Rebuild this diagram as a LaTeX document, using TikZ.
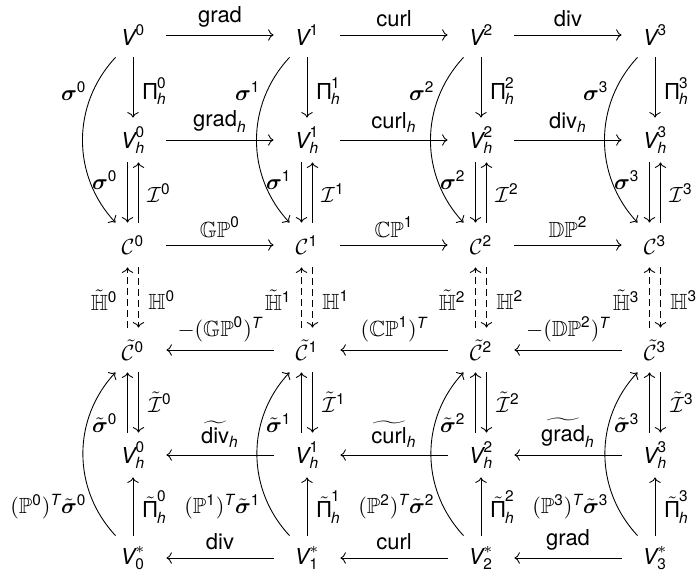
\documentclass[tikz,border=0pt]{standalone}
\usepackage{amsmath,amssymb,bm}
\usepackage{fontspec}
\setmainfont{TeX Gyre Heros}
\usetikzlibrary{arrows.meta}
\newcommand{\si}[1]{\text{\itshape #1}}
\newcommand{\su}[1]{\text{\upshape #1}}
\begin{document}
\begin{tikzpicture}[x=0.455pt,y=0.455pt,
  obj/.style={minimum width=30pt,minimum height=20pt,inner sep=0pt},
  lbl/.style={inner sep=0pt},
  arr/.style={->},
  darr/.style={->,dash pattern=on 3pt off 2pt}]
\useasboundingbox (0,0) rectangle (696,-572);
\foreach \k/\x in {0/133,1/307,2/481,3/655}{
  \node[obj] (V\k) at (\x,-35) {$\si{V}^{\su{\k}}$};
  \node[obj] (Vh\k) at (\x,-140) {$\si{V}^{\su{\k}}_{\si{h}}$};
  \node[obj] (C\k) at (\x,-245) {$\mathcal{C}^{\su{\k}}$};
  \node[obj] (Ct\k) at (\x,-350) {$\tilde{\mathcal{C}}^{\su{\k}}$};
  \node[obj] (Vb\k) at (\x,-455) {$\si{V}^{\su{\k}}_{\si{h}}$};
  \node[obj] (Vs\k) at (\x,-558) {$\si{V}^{\ast}_{\su{\k}}$};
  \draw[arr] (V\k) -- (Vh\k);
  \draw[arr] ([xshift=-2.5pt]Vh\k.south) -- ([xshift=-2.5pt]C\k.north);
  \draw[arr] ([xshift=2.5pt]C\k.north) -- ([xshift=2.5pt]Vh\k.south);
  \draw[darr] ([xshift=-2.5pt]Ct\k.north) -- ([xshift=-2.5pt]C\k.south);
  \draw[darr] ([xshift=2.5pt]C\k.south) -- ([xshift=2.5pt]Ct\k.north);
  \draw[arr] ([xshift=-2.5pt]Vb\k.north) -- ([xshift=-2.5pt]Ct\k.south);
  \draw[arr] ([xshift=2.5pt]Ct\k.south) -- ([xshift=2.5pt]Vb\k.north);
  \draw[arr] (Vs\k) -- (Vb\k);
  \draw[arr] (V\k.-128) to[bend right=43] (C\k.128);
  \draw[arr] (Vs\k.128) to[bend left=43] (Ct\k.-128);
  \node[lbl,anchor=east] (sA\k) at (\x-46,-91) {$\boldsymbol{\sigma}^{\su{\k}}$};
  \node[lbl,anchor=west] (pi\k) at (\x+10,-91) {$\su{Π}^{\su{\k}}_{\si{h}}$};
  \node[lbl,anchor=east] (sB\k) at (\x-15,-180) {$\boldsymbol{\sigma}^{\su{\k}}$};
  \node[lbl,anchor=west] (I\k) at (\x+14,-193) {$\mathcal{I}^{\su{\k}}$};
  \node[lbl,anchor=east] (Ht\k) at (\x-15,-300) {$\tilde{\mathbb{H}}^{\su{\k}}$};
  \node[lbl,anchor=west] (H\k) at (\x+15,-300) {$\mathbb{H}^{\su{\k}}$};
  \node[lbl,anchor=east] (st\k) at (\x-15,-423) {$\tilde{\boldsymbol{\sigma}}^{\su{\k}}$};
  \node[lbl,anchor=west] (It\k) at (\x+15,-402) {$\tilde{\mathcal{I}}^{\su{\k}}$};
  \node[lbl,anchor=west] (pit\k) at (\x+10,-507) {$\tilde{\su{Π}}^{\su{\k}}_{\si{h}}$};
  \node[lbl,anchor=east] (Pt\k) at (\x-46,-507) {$(\mathbb{P}^{\su{\k}})^{\si{T}}\tilde{\boldsymbol{\sigma}}^{\su{\k}}$};
}
% row 0
\draw[arr] (V0) -- node[above] (l00) {grad} (V1);
\draw[arr] (V1) -- node[above] (l01) {curl} (V2);
\draw[arr] (V2) -- node[above] (l02) {div} (V3);
% row 1
\draw[arr] (Vh0) -- node[above] (l10) {$\su{grad}_{\si{h}}$} (Vh1);
\draw[arr] (Vh1) -- node[above] (l11) {$\su{curl}_{\si{h}}$} (Vh2);
\draw[arr] (Vh2) -- node[above] (l12) {$\su{div}_{\si{h}}$} (Vh3);
% row 2
\draw[arr] (C0) -- node[above] (l20) {$\mathbb{GP}^{\su{0}}$} (C1);
\draw[arr] (C1) -- node[above] (l21) {$\mathbb{CP}^{\su{1}}$} (C2);
\draw[arr] (C2) -- node[above] (l22) {$\mathbb{DP}^{\su{2}}$} (C3);
% row 3
\draw[arr] (Ct1) -- node[above] (l30) {$-(\mathbb{GP}^{\su{0}})^{\si{T}}$} (Ct0);
\draw[arr] (Ct2) -- node[above] (l31) {$(\mathbb{CP}^{\su{1}})^{\si{T}}$} (Ct1);
\draw[arr] (Ct3) -- node[above] (l32) {$-(\mathbb{DP}^{\su{2}})^{\si{T}}$} (Ct2);
% row 4
\draw[arr] (Vb1) -- node[above] (l40) {$\widetilde{\su{div}}_{\si{h}}$} (Vb0);
\draw[arr] (Vb2) -- node[above] (l41) {$\widetilde{\su{curl}}_{\si{h}}$} (Vb1);
\draw[arr] (Vb3) -- node[above] (l42) {$\widetilde{\su{grad}}_{\si{h}}$} (Vb2);
% row 5
\draw[arr] (Vs1) -- node[above] (l50) {div} (Vs0);
\draw[arr] (Vs2) -- node[above] (l51) {curl} (Vs1);
\draw[arr] (Vs3) -- node[above] (l52) {grad} (Vs2);
\end{tikzpicture}
\end{document}
